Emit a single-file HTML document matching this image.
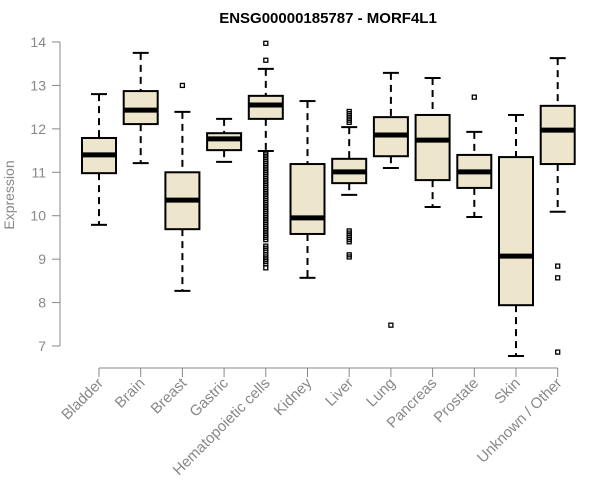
<!DOCTYPE html>
<html><head><meta charset="utf-8"><style>
body{margin:0;background:#fff;}
svg{display:block;font-family:"Liberation Sans",Arial,sans-serif;}
</style></head><body>
<svg id="chart" width="600" height="500">
<text x="328" y="23" text-anchor="middle" font-weight="bold" font-size="15">ENSG00000185787 - MORF4L1</text>
<text transform="translate(14,195) rotate(-90)" text-anchor="middle" font-size="14" fill="#888">Expression</text>
<g id="axis"></g>
<g id="xaxis"></g>
<g id="boxes"></g>
<g id="xlabels"></g>
</svg>
<script>
const categories=["Bladder","Brain","Breast","Gastric","Hematopoietic cells","Kidney","Liver","Lung","Pancreas","Prostate","Skin","Unknown / Other"];
const whiskLow=[9.79,11.21,8.27,11.24,11.49,8.57,10.48,11.10,10.20,9.97,6.77,10.09];
const q1=[10.98,12.11,9.69,11.51,12.23,9.58,10.75,11.37,10.82,10.64,7.94,11.19];
const median=[11.40,12.43,10.36,11.77,12.55,9.95,11.01,11.86,11.74,11.01,9.07,11.97];
const q3=[11.79,12.87,11.00,11.90,12.76,11.19,11.31,12.27,12.32,11.40,11.35,12.53];
const whiskHigh=[12.80,13.75,12.39,12.23,13.38,12.64,12.04,13.29,13.17,11.93,12.32,13.63];
const outliers=[[],[],[13.0],[],
 [13.97,13.58,11.45,11.40,11.35,11.3,11.25,11.2,11.15,11.1,11.05,11.0,10.95,10.9,10.85,10.8,10.75,10.7,10.65,10.6,10.55,10.5,10.45,10.4,10.35,10.3,10.25,10.2,10.15,10.1,10.05,10.0,9.95,9.9,9.85,9.8,9.75,9.7,9.65,9.6,9.55,9.5,9.45,9.3,9.25,9.2,9.1,9.05,9.0,8.95,8.9,8.8],
 [],[12.4,12.35,12.3,12.25,12.2,12.15,9.65,9.6,9.55,9.5,9.45,9.4,9.1,9.05],
 [7.48],[],[12.73],[],[8.84,8.57,6.86]];
const yTicks=[7,8,9,10,11,12,13,14];
const NS="http://www.w3.org/2000/svg";
const y=v=>42+(14-v)*43.43;
const x=i=>99+i*41.7;
function mk(t,a,p){const e=document.createElementNS(NS,t);for(const k in a)e.setAttribute(k,a[k]);p.appendChild(e);return e;}
const ax=document.getElementById('axis');
mk('line',{x1:60,x2:60,y1:y(14),y2:y(7),stroke:'#888'},ax);
yTicks.forEach(t=>{
 const l=mk('line',{x1:52,x2:60,y1:y(t),y2:y(t),stroke:'#888'},ax);
 
 
 const tx=mk('text',{x:46,y:y(t)+5,'text-anchor':'end','font-size':14,fill:'#888'},ax);
 tx.textContent=t;
 
 
});
const xa=document.getElementById('xaxis');
mk('line',{x1:x(0),x2:x(categories.length-1),y1:368,y2:368,stroke:'#888'},xa);
const bx=document.getElementById('boxes'),xl=document.getElementById('xlabels');
categories.forEach((c,i)=>{
 const tk=mk('line',{x1:x(i),x2:x(i),y1:368,y2:377,stroke:'#888'},xa);
 
 
 const g=mk('g',{},bx);
 
 
 const cx=x(i),hw=17;
 mk('line',{x1:cx,x2:cx,y1:y(whiskHigh[i]),y2:y(q3[i]),stroke:'#000','stroke-width':2,'stroke-dasharray':'7,5'},g);
 mk('line',{x1:cx,x2:cx,y1:y(q1[i]),y2:y(whiskLow[i]),stroke:'#000','stroke-width':2,'stroke-dasharray':'7,5'},g);
 mk('line',{x1:cx-8,x2:cx+8,y1:y(whiskHigh[i]),y2:y(whiskHigh[i]),stroke:'#000','stroke-width':2},g);
 mk('line',{x1:cx-8,x2:cx+8,y1:y(whiskLow[i]),y2:y(whiskLow[i]),stroke:'#000','stroke-width':2},g);
 mk('rect',{x:cx-hw,y:y(q3[i]),width:2*hw,height:y(q1[i])-y(q3[i]),fill:'#ede6cd',stroke:'#000','stroke-width':2},g);
 mk('line',{x1:cx-hw,x2:cx+hw,y1:y(median[i]),y2:y(median[i]),stroke:'#000','stroke-width':5},g);
 outliers[i].forEach(o=>{
  const p=mk('rect',{x:cx-2,y:y(o)-2,width:4,height:4,fill:'none',stroke:'#000','stroke-width':1.3},g);
  
  
 });
 const t=mk('text',{transform:`translate(${cx+5},${384}) rotate(-45)`,'text-anchor':'end','font-size':15,fill:'#888'},xl);
 t.textContent=c;
 
 
});
</script>
</body></html>
